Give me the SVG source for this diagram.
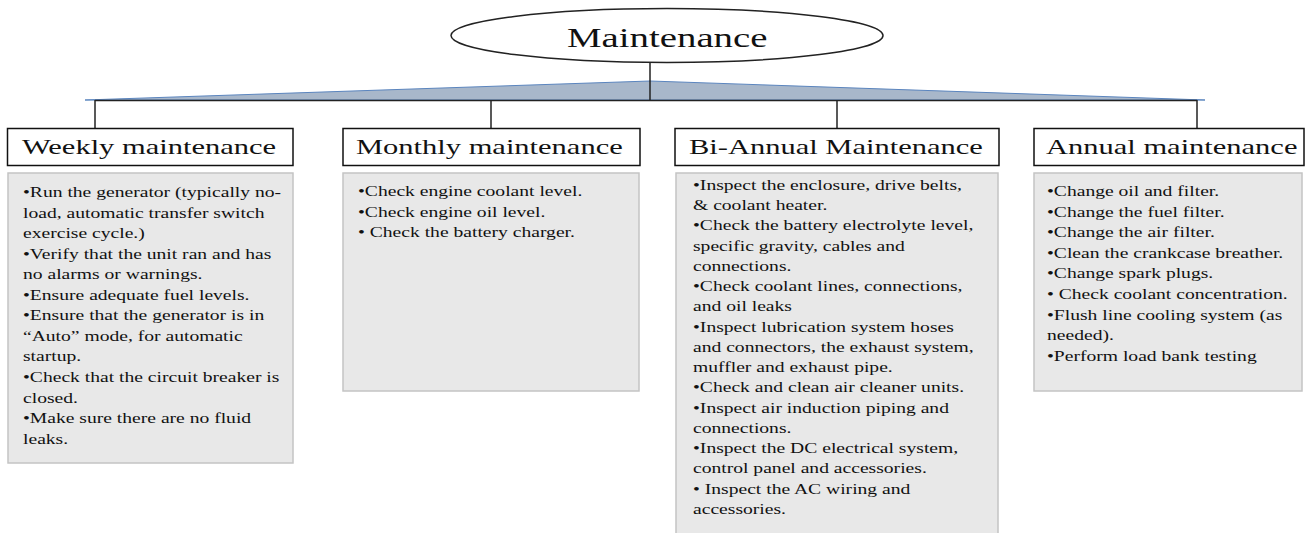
<svg xmlns="http://www.w3.org/2000/svg" width="1307" height="533" viewBox="0 0 1307 533">
<style>
.hdr{fill:#fff;stroke:#111;stroke-width:1.5}
.box{fill:#e8e8e8;stroke:#c4c4c4;stroke-width:1.5}
.ht{font-family:"Liberation Serif","Times New Roman",serif;font-size:22px;fill:#111}
.bt{font-family:"Liberation Serif","Times New Roman",serif;font-size:14px;fill:#111}
.title{font-family:"Liberation Serif","Times New Roman",serif;font-size:28px;fill:#111}
.con{stroke:#222;stroke-width:1.5;fill:none}
</style>
<rect width="1307" height="533" fill="#fff"/>
<g id="connectors">
<polygon points="85,100 650,81 1205,100" fill="#a8b7ca" stroke="#5b85be" stroke-width="1"/>
<line class="con" x1="95" y1="100.5" x2="1197" y2="100.5" stroke="#3a4555"/>
<line class="con" x1="650" y1="62" x2="650" y2="100"/>
<line class="con" x1="95" y1="100" x2="95" y2="128"/>
<line class="con" x1="491" y1="100" x2="491" y2="128"/>
<line class="con" x1="837" y1="100" x2="837" y2="128"/>
<line class="con" x1="1197" y1="100" x2="1197" y2="128"/>
</g>
<g id="root">
<ellipse cx="667" cy="35.5" rx="216" ry="27" fill="#fff" stroke="#222" stroke-width="1.5"/>
<text class="title" transform="matrix(1.387 0 0 1 567 47)" x="0" y="0">Maintenance</text>
</g>
<g id="weekly">
<rect class="hdr" x="7.5" y="128.5" width="285.5" height="37"/>
<text class="ht" transform="matrix(1.387 0 0 1 22 154)" x="0" y="0">Weekly maintenance</text>
<rect class="box" x="8" y="173" width="285" height="290"/>
<text class="bt" transform="matrix(1.4 0 0 1 23 0)">
<tspan x="0" y="197">•Run the generator (typically no-</tspan>
<tspan x="0" y="217.6">load, automatic transfer switch</tspan>
<tspan x="0" y="238.1">exercise cycle.)</tspan>
<tspan x="0" y="258.7">•Verify that the unit ran and has</tspan>
<tspan x="0" y="279.2">no alarms or warnings.</tspan>
<tspan x="0" y="299.8">•Ensure adequate fuel levels.</tspan>
<tspan x="0" y="320.4">•Ensure that the generator is in</tspan>
<tspan x="0" y="340.9">“Auto” mode, for automatic</tspan>
<tspan x="0" y="361.5">startup.</tspan>
<tspan x="0" y="382">•Check that the circuit breaker is</tspan>
<tspan x="0" y="402.6">closed.</tspan>
<tspan x="0" y="423.2">•Make sure there are no fluid</tspan>
<tspan x="0" y="443.7">leaks.</tspan>
</text>
</g>
<g id="monthly">
<rect class="hdr" x="343" y="128.5" width="297" height="37"/>
<text class="ht" transform="matrix(1.387 0 0 1 356 154)" x="0" y="0">Monthly maintenance</text>
<rect class="box" x="343" y="173" width="296" height="218"/>
<text class="bt" transform="matrix(1.4 0 0 1 358 0)">
<tspan x="0" y="196">•Check engine coolant level.</tspan>
<tspan x="0" y="216.7">•Check engine oil level.</tspan>
<tspan x="0" y="237.4">• Check the battery charger.</tspan>
</text>
</g>
<g id="biannual">
<rect class="hdr" x="675" y="128.5" width="324" height="37"/>
<text class="ht" transform="matrix(1.387 0 0 1 689 154)" x="0" y="0">Bi-Annual Maintenance</text>
<rect class="box" x="676" y="173" width="322" height="365"/>
<text class="bt" transform="matrix(1.4 0 0 1 693 0)">
<tspan x="0" y="190">•Inspect the enclosure, drive belts,</tspan>
<tspan x="0" y="210.25">&amp; coolant heater.</tspan>
<tspan x="0" y="230.5">•Check the battery electrolyte level,</tspan>
<tspan x="0" y="250.75">specific gravity, cables and</tspan>
<tspan x="0" y="271">connections.</tspan>
<tspan x="0" y="291.25">•Check coolant lines, connections,</tspan>
<tspan x="0" y="311.5">and oil leaks</tspan>
<tspan x="0" y="331.75">•Inspect lubrication system hoses</tspan>
<tspan x="0" y="352">and connectors, the exhaust system,</tspan>
<tspan x="0" y="372.25">muffler and exhaust pipe.</tspan>
<tspan x="0" y="392.5">•Check and clean air cleaner units.</tspan>
<tspan x="0" y="412.75">•Inspect air induction piping and</tspan>
<tspan x="0" y="433">connections.</tspan>
<tspan x="0" y="453.25">•Inspect the DC electrical system,</tspan>
<tspan x="0" y="473.5">control panel and accessories.</tspan>
<tspan x="0" y="493.75">• Inspect the AC wiring and</tspan>
<tspan x="0" y="514">accessories.</tspan>
</text>
</g>
<g id="annual">
<rect class="hdr" x="1034" y="128.5" width="270" height="37"/>
<text class="ht" transform="matrix(1.387 0 0 1 1046 154)" x="0" y="0">Annual maintenance</text>
<rect class="box" x="1034" y="173" width="268" height="218"/>
<text class="bt" transform="matrix(1.4 0 0 1 1047 0)">
<tspan x="0" y="196">•Change oil and filter.</tspan>
<tspan x="0" y="216.6">•Change the fuel filter.</tspan>
<tspan x="0" y="237.2">•Change the air filter.</tspan>
<tspan x="0" y="257.8">•Clean the crankcase breather.</tspan>
<tspan x="0" y="278.4">•Change spark plugs.</tspan>
<tspan x="0" y="299">• Check coolant concentration.</tspan>
<tspan x="0" y="319.6">•Flush line cooling system (as</tspan>
<tspan x="0" y="340.2">needed).</tspan>
<tspan x="0" y="360.8">•Perform load bank testing</tspan>
</text>
</g>
</svg>
